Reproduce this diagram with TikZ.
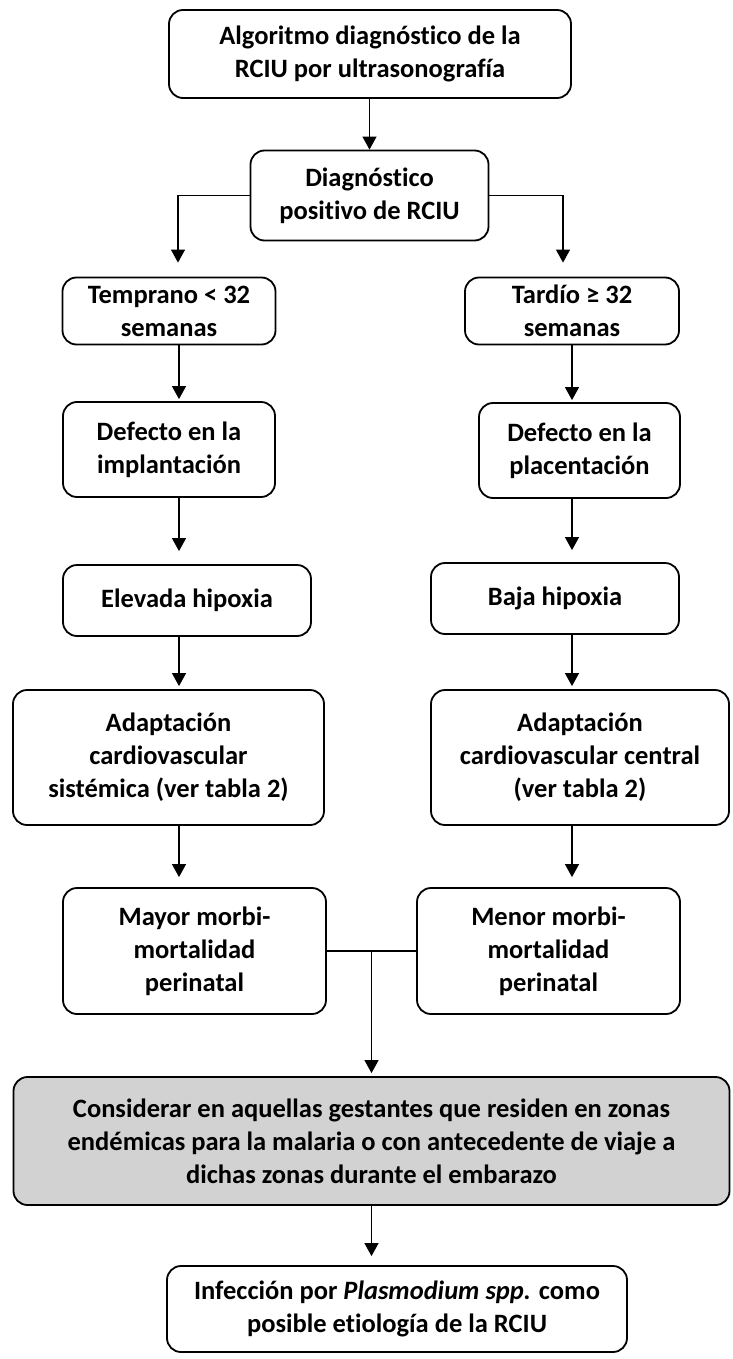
\documentclass[tikz,border=0pt]{standalone}
\usepackage{fontspec}
\setmainfont{Carlito}[Ligatures=CommonOff]
\usetikzlibrary{arrows.meta,calc}
\begin{document}
\begin{tikzpicture}[x=1pt,y=-1pt,
  box/.style={draw, line width=1.8pt, rounded corners=14pt, align=center, inner sep=0pt,
    font=\fontsize{26.5}{33}\selectfont\bfseries},
  arr/.style={line width=1.1pt, -{Triangle[width=14pt,length=13pt]}},
  ln/.style={line width=1.1pt}]
\useasboundingbox (0,0) rectangle (732,1359);
\node[box, minimum width=402pt, minimum height=88pt] (b1) at (370,54) {Algoritmo diagnóstico de la\\RCIU por ultrasonografía};
\node[box, minimum width=238pt, minimum height=90pt] (b2) at (369.5,195.5) {Diagnóstico\\positivo de RCIU};
\node[box, minimum width=213pt, minimum height=67pt] (b3l) at (169,311) {Temprano < 32\\semanas};
\node[box, minimum width=214pt, minimum height=67pt] (b3r) at (572,311) {Tardío ≥ 32\\semanas};
\node[box, minimum width=212pt, minimum height=95pt] (b4l) at (169,449.5) {Defecto en la\\implantación};
\node[box, minimum width=201pt, minimum height=95pt] (b4r) at (579.5,450.5) {Defecto en la\\placentación};
\node[box, minimum width=248pt, minimum height=71pt] (b5l) at (187,600.5) {Elevada hipoxia};
\node[box, minimum width=248pt, minimum height=71pt] (b5r) at (555,598.5) {Baja hipoxia};
\node[box, minimum width=311pt, minimum height=135pt] (b6l) at (168.5,757.5) {Adaptación\\cardiovascular\\sistémica (ver tabla 2)};
\node[box, minimum width=298pt, minimum height=135pt] (b6r) at (580,757.5) {Adaptación\\cardiovascular central\\(ver tabla 2)};
\node[box, minimum width=263pt, minimum height=126pt] (b7l) at (194.5,951) {Mayor morbi-\\mortalidad\\perinatal};
\node[box, minimum width=263pt, minimum height=126pt] (b7r) at (548.5,951) {Menor morbi-\\mortalidad\\perinatal};
\node[box, fill=gray!35, minimum width=716pt, minimum height=128pt] (b8) at (371.5,1141) {Considerar en aquellas gestantes que residen en zonas\\endémicas para la malaria o con antecedente de viaje a\\dichas zonas durante el embarazo};
\node[box, minimum width=460pt, minimum height=86pt] (b9) at (397,1309) {Infección por \textit{Plasmodium spp.} como\\posible etiología de la RCIU};

\coordinate (cl) at (179,0);
\coordinate (cr) at (572,0);
\coordinate (bl) at (178,0);
\coordinate (br) at (563,0);
\coordinate (m) at ($(b7l.east)!0.5!(b7r.west)$);

\draw[arr] (b1.south -| b2.north) -- (b2.north);
\draw[arr, shorten >=14pt] (b2.west) -| (b3l.north -| bl);
\draw[arr, shorten >=14pt] (b2.east) -| (b3r.north -| br);
\draw[arr, shorten >=2pt] (b3l.south -| cl) -- (b4l.north -| cl);
\draw[arr, shorten >=2pt] (b3r.south -| cr) -- (b4r.north -| cr);
\draw[arr, shorten >=13pt] (b4l.south -| cl) -- (b5l.north -| cl);
\draw[arr, shorten >=12pt] (b4r.south -| cr) -- (b5r.north -| cr);
\draw[arr, shorten >=3pt] (b5l.south -| cl) -- (b6l.north -| cl);
\draw[arr, shorten >=3pt] (b5r.south -| cr) -- (b6r.north -| cr);
\draw[arr, shorten >=10pt] (b6l.south -| cl) -- (b7l.north -| cl);
\draw[arr, shorten >=10pt] (b6r.south -| cr) -- (b7r.north -| cr);
\draw[ln] (b7l.east) -- (b7r.west);
\draw[arr, shorten >=3pt] (m) -- (b8.north -| m);
\draw[arr, shorten >=9pt] (b8.south -| m) -- (b9.north -| m);
\end{tikzpicture}
\end{document}
